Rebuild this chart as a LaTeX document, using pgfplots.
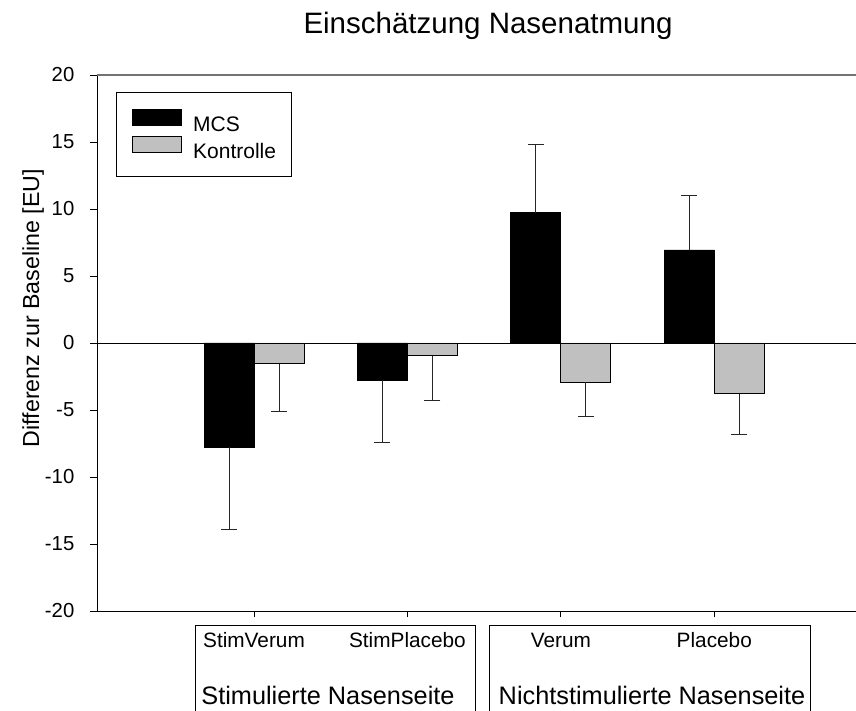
\documentclass[border=0pt]{standalone}
\usepackage{fontspec}
\setmainfont{Liberation Sans}
\usepackage{pgfplots}
\pgfplotsset{compat=1.18}
\definecolor{kgray}{RGB}{192,192,192}
\begin{document}
\begin{tikzpicture}
\useasboundingbox (0,0) rectangle (856pt,711pt);
\begin{axis}[
  at={(97pt,100pt)}, anchor=south west,
  x=153.43pt, y=13.4pt,
  xmin=-0.0233, xmax=4.9236, ymin=-20, ymax=20,
  axis line style={draw=none},
  ybar=0pt, bar width=50pt,
  tick align=outside, major tick length=6.5pt,
  tick style={black, line width=0.8pt},
  xtick={1,2,3,4}, xticklabels={StimVerum,StimPlacebo,Verum,Placebo},
  ytick={-20,-15,-10,-5,0,5,10,15,20},
  yticklabels={-20,-15,-10,-5,0,5,10,15,20},
  xtick pos=bottom, ytick pos=left,
  x tick label style={font=\fontsize{20.8}{24}\selectfont, anchor=base, inner sep=0pt, yshift=-30.5pt},
  y tick label style={font=\fontsize{20.3}{24}\selectfont, anchor=east, inner sep=0pt, xshift=-16pt},
  legend cell align=left,
  legend image code/.code={\draw[#1] (0pt,-0.7pt) rectangle (49pt,15.3pt);},
  legend style={at={(0.0254,0.9677)}, anchor=north west, draw=black, line width=0.8pt,
    inner xsep=15pt, inner ysep=16.5pt, row sep=3pt, column sep=11.7pt,
    font=\fontsize{21}{24}\selectfont, nodes={inner sep=0pt}},
]
\addplot[fill=black, draw=black, line width=0.8pt,
  error bars/.cd, y dir=both, y explicit,
  error bar style={line width=0.9pt, black!85},
  error mark options={rotate=90, mark size=8pt, line width=0.9pt, black!85}]
  coordinates {(1,-7.76) -= (0,6.19) (2,-2.78) -= (0,4.66) (3,9.72) += (0,5.06) (4,6.94) += (0,4.05)};
\addlegendentry{MCS}
\addplot[fill=kgray, draw=black, line width=0.8pt,
  error bars/.cd, y dir=both, y explicit,
  error bar style={line width=0.9pt, black!85},
  error mark options={rotate=90, mark size=8pt, line width=0.9pt, black!85}]
  coordinates {(1,-1.54) -= (0,3.58) (2,-0.95) -= (0,3.36) (3,-2.93) -= (0,2.57) (4,-3.78) -= (0,3.03)};
\addlegendentry{Kontrolle}
\end{axis}
% axis lines
\draw[black, line width=0.8pt] (97pt,100pt) -- (97pt,636pt);
\draw[black!55, line width=1.3pt] (97pt,636pt) -- (856pt,636pt);
\draw[black, line width=0.8pt] (97pt,100pt) -- (856pt,100pt);
\draw[black, line width=0.8pt] (97pt,368pt) -- (856pt,368pt);
% category boxes
\draw[line width=0.8pt] (195pt,-2pt) -- (195pt,86pt) -- (475pt,86pt) -- (475pt,-2pt);
\draw[line width=0.8pt] (489pt,-2pt) -- (489pt,86pt) -- (810pt,86pt) -- (810pt,-2pt);
\node[anchor=base, font=\fontsize{25.3}{30}\selectfont, inner sep=0pt] at (328pt,6pt) {Stimulierte Nasenseite};
\node[anchor=base, font=\fontsize{25.3}{30}\selectfont, inner sep=0pt] at (652pt,6pt) {Nichtstimulierte Nasenseite};
% title and y label
\node[anchor=base, font=\fontsize{29.5}{34}\selectfont, inner sep=0pt] at (488pt,677.7pt) {Einschätzung Nasenatmung};
\node[anchor=base, rotate=90, font=\fontsize{23.2}{26}\selectfont, inner sep=0pt] at (39pt,403pt) {Differenz zur Baseline [EU]};
\end{tikzpicture}
\end{document}
